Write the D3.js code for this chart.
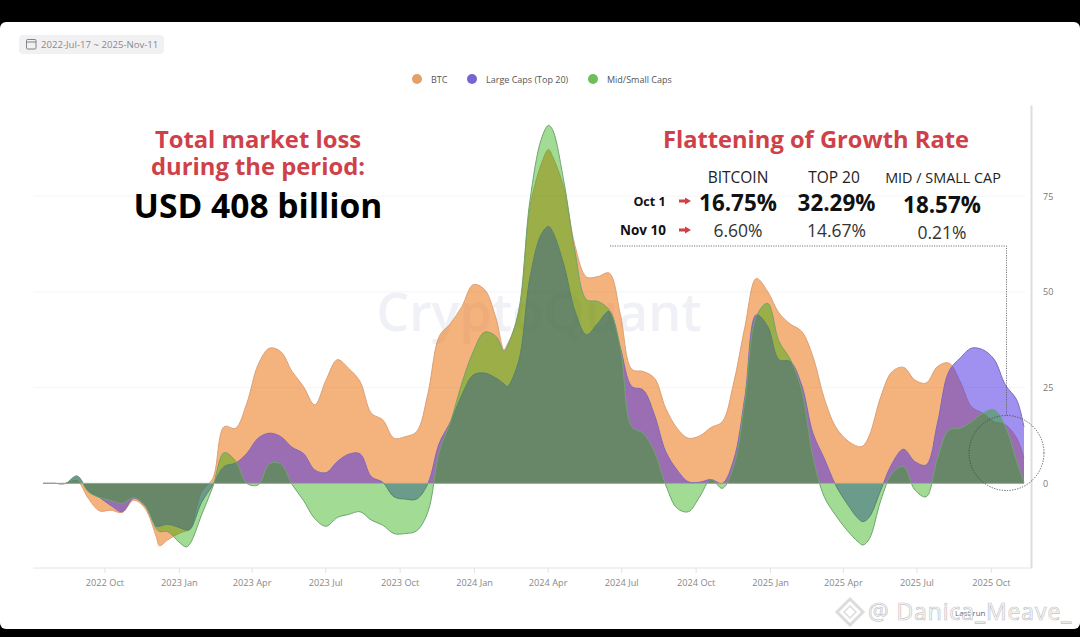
<!DOCTYPE html>
<html>
<head>
<meta charset="utf-8">
<script src="https://cdn.jsdelivr.net/npm/d3@7"></script>
<style>
  html, body { margin: 0; background: #000; }
  svg { display: block; font-family: "Open Sans", sans-serif; }
</style>
</head>
<body>
<div id="chart"></div>
<script>
// Values, roughly every two weeks plus a few turning points
const dates = ["2022-07-17","2022-07-31","2022-08-14","2022-08-28","2022-09-11","2022-09-25","2022-10-09","2022-10-23","2022-11-06","2022-11-20","2022-12-04","2022-12-08","2022-12-18",
  "2023-01-01","2023-01-10","2023-01-15","2023-01-29","2023-02-12","2023-02-26","2023-03-12","2023-03-26","2023-04-09","2023-04-23","2023-05-07","2023-05-21","2023-06-04","2023-06-18",
  "2023-07-02","2023-07-16","2023-07-30","2023-08-13","2023-08-27","2023-09-10","2023-09-24","2023-10-08","2023-10-22","2023-11-05","2023-11-19","2023-12-03","2023-12-17","2023-12-31",
  "2024-01-14","2024-01-28","2024-02-07","2024-02-11","2024-02-25","2024-03-10","2024-03-24","2024-04-02","2024-04-07","2024-04-21","2024-05-05","2024-05-19","2024-06-02","2024-06-16","2024-06-30",
  "2024-07-14","2024-07-28","2024-08-11","2024-08-25","2024-09-08","2024-09-22","2024-10-06","2024-10-20","2024-11-03","2024-11-17","2024-12-01","2024-12-15","2024-12-29",
  "2025-01-12","2025-01-26","2025-02-09","2025-02-23","2025-03-09","2025-03-23","2025-04-06","2025-04-20","2025-04-26","2025-05-04","2025-05-18","2025-06-01","2025-06-15","2025-06-29",
  "2025-07-13","2025-07-27","2025-08-10","2025-08-24","2025-09-07","2025-09-21","2025-10-05","2025-10-19","2025-11-02","2025-11-11"];

const btc = [0,0,0,0.7,-3.9,-7.2,-7.0,-7.6,-4.4,-6.5,-13.9,-16.3,-14.8,
  -13.1,-12.4,-11.8,-2.2,1.3,14.8,14.4,20.9,31,35.3,34.4,29.2,25.3,20.5,
  27,32.3,30,26.6,18.3,16.6,11.8,12.2,13.5,23.5,38.4,41.8,46.2,51.9,
  50.6,43.2,34.9,36.2,44,71.9,83.3,87.2,85.4,77.2,61.9,53.9,54,54.9,44,
  29.8,29.2,27.5,19.6,14.4,11.8,12.4,14.6,16.1,26.2,41,53.5,50.1,
  44.5,41.6,39.7,33.1,22.2,14.8,11.3,9.6,9.8,12.6,22.7,29.2,30.3,27,
  26.2,30.5,31.4,26.6,20,18.3,16.1,15.3,11.8,6.6];

const largeCaps = [0,0,0,1.9,-1.9,-3.7,-5.8,-7.4,-3.9,-5.8,-11.2,-11.2,-10.7,
  -11.5,-12.2,-12,-5,-0.4,4.4,5.3,7.8,11.8,13.1,12.2,9.4,7.8,3.5,
  2.8,5.7,7.6,7.7,1.7,0.3,-3.5,-4.1,-4.1,0,10.5,16.1,23.1,28.3,
  28.8,27.5,26,25.3,31.8,53.6,65,67.1,65.8,57.1,44.9,38.8,41.8,44.9,35.3,
  25.3,24.4,17.9,8.3,3.5,0.4,0.3,1,0,6.1,22.7,44,41,
  32.3,31.8,25.7,13.1,6.5,-0.4,-5.2,-9.2,-10,-8.7,-1.7,5.2,8.9,5.7,
  4.8,15.7,29.2,32.7,35.3,34.9,32.4,25.7,21.8,14.67];

const midSmallCaps = [0,0,0,1.9,-2.2,-3.7,-4.5,-5.2,-3.7,-5.8,-11.8,-12.6,-12.6,
  -15.3,-16.6,-15.7,-8.3,-0.9,8,5.9,0,-0.4,5.1,5.1,-0.3,-4.4,-9.2,
  -11.2,-8.9,-8.1,-7.4,-9.6,-10.9,-13.1,-13.1,-12.4,-7.4,8.3,16.1,26.2,34.4,
  39.5,38.4,34.5,35.7,44.9,73.7,89.8,93.5,92.4,78.9,60.2,48,47.5,45.3,35.3,
  14.8,13.1,8.3,-0.4,-6.5,-7.4,-3.5,1,-1.3,4.4,21.8,43.6,47,
  37.1,32.4,24.4,7,-3.5,-8.3,-12.2,-15.3,-16.1,-14.4,-4.4,2.6,4.4,-1.7,
  -3.5,6.5,13.9,14.4,16.1,18.3,19.2,14.8,5.7,0.21];

const quarterTicks = ["2022-10-01","2023-01-01","2023-04-01","2023-07-01","2023-10-01","2024-01-01","2024-04-01","2024-07-01","2024-10-01","2025-01-01","2025-04-01","2025-07-01","2025-10-01"];
const valueTicks = [0, 25, 50, 75];

const legendNames = ["BTC", "Large Caps (Top 20)", "Mid/Small Caps"];
const tableHeads = ["BITCOIN", "TOP 20", "MID / SMALL CAP"];
const oct1Rates = ["16.75%", "32.29%", "18.57%"];
const nov10Rates = ["6.60%", "14.67%", "0.21%"];

const width = 1080, height = 637;
const parseDay = d3.utcParse("%Y-%m-%d");
const days = dates.map(parseDay);

const svg = d3.select("#chart").append("svg")
  .attr("width", width)
  .attr("height", height);

// photo frame: black bars with the white card between them
svg.append("rect").attr("width", width).attr("height", height).attr("fill", "#000");
svg.append("rect").attr("x", 0).attr("y", 22).attr("width", width).attr("height", 607).attr("rx", 6).attr("fill", "#fff");

const x = d3.scaleUtc()
  .domain([parseDay("2022-07-17"), parseDay("2025-11-11")])
  .range([43, 1024]);
const y = d3.scaleLinear()
  .domain([-22.1, 98.8])
  .range([568, 105]);

// date range chip
svg.append("rect").attr("x", 19).attr("y", 35).attr("width", 145).attr("height", 19).attr("rx", 4).attr("fill", "#f1f1f3");
svg.append("rect").attr("x", 26.5).attr("y", 39.5).attr("width", 9.5).attr("height", 9.5).attr("rx", 1)
  .attr("fill", "none").attr("stroke", "#777").attr("stroke-width", 0.9);
svg.append("line").attr("x1", 26.5).attr("x2", 36).attr("y1", 42).attr("y2", 42).attr("stroke", "#777").attr("stroke-width", 0.9);
svg.append("text").attr("x", 41).attr("y", 48).attr("font-size", 9.6).attr("fill", "#8a8a8a").text("2022-Jul-17 ~ 2025-Nov-11");

// legend
const legendColors = ["#e4a069", "#7864d2", "#6ebe5a"];
const legendDotX = [417, 472, 593];
legendNames.forEach((name, i) => {
  svg.append("circle").attr("cx", legendDotX[i]).attr("cy", 79).attr("r", 5).attr("fill", legendColors[i]);
  svg.append("text").attr("x", legendDotX[i] + 14).attr("y", 82.5).attr("font-size", 9).attr("fill", "#555").text(name);
});

// gridlines
svg.append("g").selectAll("line")
  .data(valueTicks.filter(d => d > 0))
  .enter().append("line")
  .attr("x1", 33).attr("x2", 1025)
  .attr("y1", d => y(d)).attr("y2", d => y(d))
  .attr("stroke", "#f4f4f4");

// faint watermark behind the areas
svg.append("text")
  .attr("x", 539).attr("y", 331)
  .attr("text-anchor", "middle")
  .attr("font-size", 52).attr("font-weight", 600)
  .attr("fill", "#f0f1f6")
  .text("CryptoQuant");

// areas, bottom to top
const seriesList = [
  { values: btc, fill: "rgb(235,115,18)", opacity: 0.55, line: "#dda077" },
  { values: largeCaps, fill: "rgb(80,52,228)", opacity: 0.54, line: "#7f68bb" },
  { values: midSmallCaps, fill: "rgb(30,170,0)", opacity: 0.42, line: "#6fa46f" }
];
const curve = d3.curveCatmullRom.alpha(0.5);
const area = d3.area()
  .x((d, i) => x(days[i]))
  .y0(y(0))
  .y1(d => y(d))
  .curve(curve);
const topLine = d3.line()
  .x((d, i) => x(days[i]))
  .y(d => y(d))
  .curve(curve);

seriesList.forEach(s => {
  svg.append("path").attr("d", area(s.values)).attr("fill", s.fill).attr("fill-opacity", s.opacity);
  svg.append("path").attr("d", topLine(s.values)).attr("fill", "none").attr("stroke", s.line).attr("stroke-width", 1);
});
svg.append("line").attr("x1", 43).attr("x2", 1024).attr("y1", y(0)).attr("y2", y(0)).attr("stroke", "#8fae8f").attr("stroke-width", 1);

// axes
const xAxis = svg.append("g")
  .attr("transform", "translate(0,568)")
  .call(d3.axisBottom(x)
    .tickValues(quarterTicks.map(parseDay))
    .tickFormat(d3.utcFormat("%Y %b"))
    .tickSize(5)
    .tickPadding(6));
xAxis.select(".domain").remove();
xAxis.selectAll("line").attr("stroke", "#e2e2e2");
xAxis.selectAll("text").attr("font-family", "Open Sans").attr("font-size", 9.2).attr("fill", "#888");
svg.append("line").attr("x1", 33).attr("x2", 1031).attr("y1", 568).attr("y2", 568).attr("stroke", "#e4e4e4");

const yAxis = svg.append("g")
  .attr("transform", "translate(1031,0)")
  .call(d3.axisRight(y).tickValues(valueTicks).tickSize(0).tickPadding(12));
yAxis.select(".domain").attr("stroke", "#dedede").attr("stroke-width", 2);
yAxis.selectAll("text").attr("font-family", "Open Sans").attr("font-size", 9).attr("fill", "#777");

// left annotation
const red = "#cf4149";
const note = svg.append("g").attr("text-anchor", "middle").attr("font-weight", 700);
const lossTitle = note.append("text").attr("font-size", 23.8).attr("fill", red);
lossTitle.append("tspan").attr("x", 258).attr("y", 148).text("Total market loss");
lossTitle.append("tspan").attr("x", 258).attr("y", 175).text("during the period:");
note.append("text").attr("x", 258).attr("y", 218).attr("font-size", 33.6).attr("fill", "#000").text("USD 408 billion");

// right annotation table
const table = svg.append("g").attr("text-anchor", "middle");
table.append("text").attr("x", 816).attr("y", 148).attr("font-size", 23.7).attr("font-weight", 700).attr("fill", red).text("Flattening of Growth Rate");
const colX = [738, 834, 943];
const headSizes = [15.5, 15.5, 14.4];
tableHeads.forEach((d, i) => {
  table.append("text").attr("x", colX[i]).attr("y", 183).attr("font-size", headSizes[i]).attr("fill", "#222").text(d);
});
const rateX = [738, 836.5, 942];
const rateY = [211, 211, 213];
oct1Rates.forEach((d, i) => {
  table.append("text").attr("x", rateX[i]).attr("y", rateY[i]).attr("font-size", 22.4).attr("font-weight", 700).attr("fill", "#111").text(d);
});
const lowY = [237, 237, 239];
nov10Rates.forEach((d, i) => {
  table.append("text").attr("x", rateX[i]).attr("y", lowY[i]).attr("font-size", 17.5).attr("fill", "#333").text(d);
});
table.append("text").attr("x", 649.5).attr("y", 206).attr("font-size", 12.5).attr("font-weight", 700).attr("fill", "#111").text("Oct 1");
table.append("text").attr("x", 643).attr("y", 234.5).attr("font-size", 13.5).attr("font-weight", 700).attr("fill", "#111").text("Nov 10");
[201, 230].forEach(ay => {
  svg.append("path")
    .attr("d", `M679,${ay - 1.5} h6 v-2 l6,3.5 l-6,3.5 v-2 h-6 z`)
    .attr("fill", red);
});

// dotted leader and circle around the last readings
svg.append("path")
  .attr("d", "M610,246 H1006.5 V416")
  .attr("fill", "none").attr("stroke", "#555").attr("stroke-width", 0.8).attr("stroke-dasharray", "1.2 1.2");
svg.append("circle")
  .attr("cx", 1006.5).attr("cy", 453).attr("r", 37.5)
  .attr("fill", "none").attr("stroke", "#444").attr("stroke-width", 0.9).attr("stroke-dasharray", "1.2 1.4");

// repost stamp over the corner
svg.append("path")
  .attr("d", "M850,599 L863,612 L850,625 L837,612 Z")
  .attr("fill", "none").attr("stroke", "#dcdcdc").attr("stroke-width", 3);
svg.append("path")
  .attr("d", "M850,606 L856,612 L850,618 L844,612 Z")
  .attr("fill", "#fff").attr("stroke", "#dcdcdc").attr("stroke-width", 1.5);
svg.append("text")
  .attr("x", 955).attr("y", 616).attr("font-size", 8).attr("fill", "#666")
  .text("Last run");
svg.append("text")
  .attr("x", 868).attr("y", 620).attr("font-size", 23).attr("letter-spacing", 0.9)
  .attr("fill", "#fff").attr("stroke", "#c4c4c4").attr("stroke-width", 0.7)
  .text("@ Danica_Meave_");
</script>
</body>
</html>
